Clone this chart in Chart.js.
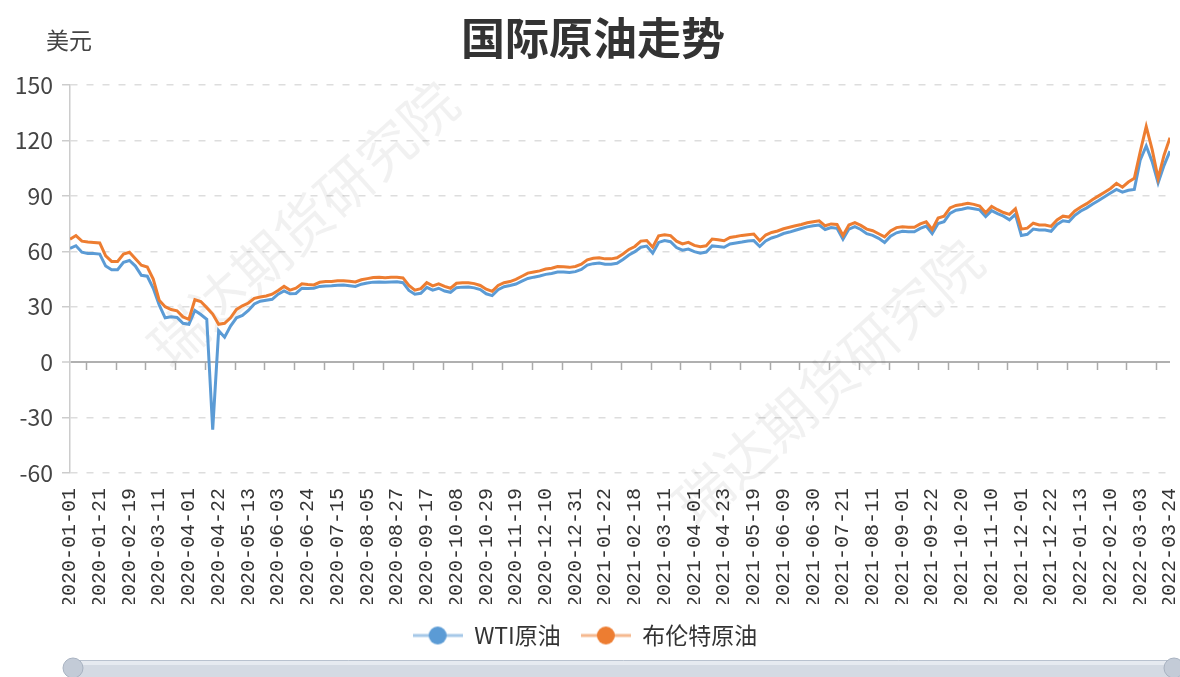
<!DOCTYPE html>
<html>
<head>
<meta charset="utf-8">
<script src="https://cdn.jsdelivr.net/npm/chart.js@4.4.1/dist/chart.umd.min.js"></script>
<style>
html,body{margin:0;padding:0;background:#fff;}
#c{display:block;}
</style>
</head>
<body>
<canvas id="c" width="1180" height="677"></canvas>
<script>
// ---------- data ----------
const tickLabels = [
  "2020-01-01","2020-01-21","2020-02-19","2020-03-11","2020-04-01","2020-04-22",
  "2020-05-13","2020-06-03","2020-06-24","2020-07-15","2020-08-05","2020-08-27",
  "2020-09-17","2020-10-08","2020-10-29","2020-11-19","2020-12-10","2020-12-31",
  "2021-01-22","2021-02-18","2021-03-11","2021-04-01","2021-04-23","2021-05-19",
  "2021-06-09","2021-06-30","2021-07-21","2021-08-11","2021-09-01","2021-09-22",
  "2021-10-20","2021-11-10","2021-12-01","2021-12-22","2022-01-13","2022-02-10",
  "2022-03-03","2022-03-24"
];
const LABEL_EVERY = 15;   // trading days between two axis labels
const STEP = 3;           // trading days between two samples below

const wti = [
  61.5, 63.0, 59.5, 58.8, 58.8,
  58.5, 52.0, 50.0, 50.0, 54.0,
  55.0, 52.0, 47.0, 46.5, 40.0,
  31.0, 24.0, 24.5, 24.2, 21.0,
  20.5, 28.0, 25.8, 23.2, -36.5,
  17.0, 13.5, 19.5, 24.0, 25.3,
  28.0, 31.5, 33.0, 33.5, 34.0,
  36.8, 38.5, 37.0, 37.2, 40.0,
  39.8, 40.0, 41.0, 41.2, 41.3,
  41.6, 41.8, 41.4, 41.0, 42.2,
  42.8, 43.3, 43.4, 43.2, 43.4,
  43.5, 43.0, 38.8, 36.8, 37.3,
  40.5, 39.0, 40.0, 38.5, 37.8,
  40.3, 40.6, 40.7, 40.2, 39.3,
  37.0, 36.0, 39.2, 40.8, 41.5,
  42.3, 43.8, 45.3, 46.0, 46.6,
  47.5, 48.0, 48.8, 48.8, 48.5,
  49.0, 50.2, 52.5, 53.3, 53.6,
  53.0, 53.0, 53.5, 55.6, 58.0,
  59.8, 62.2, 62.8, 59.0, 64.8,
  65.8, 65.2, 62.0, 60.6, 61.2,
  59.8, 59.0, 59.6, 62.9, 62.6,
  62.2, 64.0, 64.5, 65.0, 65.6,
  65.8, 62.6, 65.6, 67.2, 68.2,
  69.6, 70.4, 71.4, 72.3, 73.2,
  73.8, 74.2, 71.8, 72.8, 72.4,
  66.5, 72.0, 73.3, 71.8, 69.5,
  68.6, 67.0, 64.8, 68.2, 70.0,
  70.8, 70.6, 70.6, 72.4, 73.6,
  69.6, 75.0, 76.0, 80.5, 82.2,
  82.8, 83.6, 83.0, 82.4, 78.8,
  82.0, 80.4, 79.0, 77.0, 80.0,
  68.5, 69.2, 72.0, 71.5, 71.5,
  70.8, 74.5, 76.5, 76.0, 79.5,
  81.8, 83.5, 85.6, 87.5, 89.5,
  91.5, 93.5, 92.0, 93.0, 93.5,
  109.5, 117.0, 108.5, 97.0, 106.5,
  114.2
];

const brent = [
  66.5, 68.5, 65.5, 65.0, 64.8,
  64.5, 57.5, 54.5, 54.5, 58.5,
  59.5, 56.0, 52.5, 51.5, 45.0,
  33.5, 30.0, 28.5, 27.8, 24.5,
  23.2, 33.8, 32.8, 29.5, 26.0,
  20.5, 21.0, 24.0, 28.5, 30.5,
  32.0, 34.5, 35.3, 35.8, 36.8,
  38.8, 41.0, 39.0, 40.0, 42.4,
  42.0, 41.8, 43.2, 43.6, 43.6,
  44.0, 44.1, 43.8, 43.4, 44.6,
  45.2, 45.8, 45.9, 45.7, 45.9,
  46.0, 45.6, 41.5, 39.0, 39.8,
  43.0, 41.3, 42.4, 41.0, 40.0,
  42.7, 43.0, 43.0, 42.5, 41.5,
  39.5, 38.3, 41.5, 43.0, 43.6,
  44.8, 46.5, 48.2, 48.8, 49.4,
  50.4, 50.8, 51.7, 51.6, 51.3,
  51.8, 53.0, 55.4, 56.2, 56.5,
  55.9, 55.9, 56.5, 58.5, 61.0,
  62.6, 65.5, 65.8, 62.2, 68.4,
  69.0, 68.5, 65.5, 64.0, 64.8,
  63.2, 62.5, 63.0, 66.6, 66.2,
  65.7, 67.5, 68.0, 68.6, 69.0,
  69.3, 65.7, 68.8, 70.2, 71.0,
  72.2, 73.0, 73.8, 74.5, 75.4,
  76.0, 76.5, 73.8, 74.8, 74.5,
  68.5, 74.2, 75.5, 74.0, 72.0,
  71.1, 69.5, 67.8, 71.0, 72.8,
  73.3, 73.0, 73.0, 74.8, 76.0,
  71.8, 78.0, 79.0, 83.5, 84.8,
  85.3, 86.0, 85.4, 84.5, 80.8,
  84.3, 82.5, 81.0, 80.0, 83.0,
  72.0, 72.5, 75.2, 74.2, 74.2,
  73.5, 77.0, 79.0, 78.5, 81.8,
  84.0, 85.8, 88.0, 90.0, 92.0,
  94.0, 96.8, 94.7, 97.5, 99.5,
  114.0, 127.5, 115.0, 99.5, 112.0,
  121.5
];

const seriesNames = ["WTI原油", "布伦特原油"];
const seriesColors = ["#5B9BD5", "#ED7D31"];
const yTicks = { min: -60, max: 150, step: 30 };
const titleText = "国际原油走势";
const unitText = "美元";
const watermark = "瑞达期货研究院";

// ---------- rendering ----------
const CJK = '"Noto Sans CJK SC", "Noto Sans", sans-serif';

function legendIcon(color) {
  const c = document.createElement('canvas');
  c.width = 50; c.height = 20;
  const g = c.getContext('2d');
  g.globalAlpha = 0.55;
  g.strokeStyle = color; g.lineWidth = 3;
  g.beginPath(); g.moveTo(0, 10); g.lineTo(50, 10); g.stroke();
  g.globalAlpha = 1;
  g.fillStyle = color;
  g.beginPath(); g.arc(25, 10, 9, 0, Math.PI * 2); g.fill();
  return c;
}
const icons = seriesColors.map(legendIcon);

const toPoints = arr => arr.map((v, i) => ({ x: i * STEP, y: v }));
const lastX = (tickLabels.length - 1) * LABEL_EVERY;

const decor = {
  id: 'decor',
  beforeDatasetsDraw(chart) {
    const { ctx } = chart;
    ctx.save();
    ctx.fillStyle = 'rgba(0,0,0,0.055)';
    ctx.font = '56px ' + CJK;
    ctx.textAlign = 'center';
    ctx.textBaseline = 'middle';
    [[303, 224], [828, 382]].forEach(([x, y]) => {
      ctx.save();
      ctx.translate(x, y);
      ctx.rotate(-42 * Math.PI / 180);
      ctx.fillText(watermark, 0, 0);
      ctx.restore();
    });
    ctx.restore();

    // small tick marks hanging from the zero line
    const xs = chart.scales.x, ys = chart.scales.y;
    const y0 = Math.round(ys.getPixelForValue(0));
    ctx.save();
    ctx.strokeStyle = '#aaaaaa';
    ctx.lineWidth = 1.5;
    for (let k = 0; k < tickLabels.length - 1; k++) {
      const px = Math.round(xs.getPixelForValue(k * LABEL_EVERY + 8)) + 0.5;
      ctx.beginPath();
      ctx.moveTo(px, y0);
      ctx.lineTo(px, y0 + 8);
      ctx.stroke();
    }
    ctx.restore();
  },
  afterDraw(chart) {
    const { ctx } = chart;
    ctx.save();
    ctx.fillStyle = '#333';
    ctx.textAlign = 'center';
    ctx.textBaseline = 'middle';
    ctx.font = 'bold 44px ' + CJK;
    ctx.fillText(titleText, 593, 38);
    ctx.font = '23px ' + CJK;
    ctx.fillStyle = '#444';
    ctx.fillText(unitText, 69, 40);

    // data-zoom slider strip at the bottom
    const x1 = 73, x2 = 1174, top = 660;
    ctx.fillStyle = '#d4dae3';
    ctx.strokeStyle = '#b9c2cf';
    ctx.lineWidth = 1;
    ctx.beginPath();
    ctx.rect(x1, top + 0.5, x2 - x1, 20);
    ctx.fill(); ctx.stroke();
    ctx.fillStyle = '#e6eaf0';
    ctx.fillRect(x1, top + 1, x2 - x1, 4);
    [x1, x2].forEach(x => {
      ctx.beginPath();
      ctx.arc(x, 668, 10, 0, Math.PI * 2);
      ctx.fillStyle = '#c3cbd7';
      ctx.fill();
      ctx.strokeStyle = '#a8b2c1';
      ctx.stroke();
    });
    ctx.restore();
  }
};

new Chart(document.getElementById('c'), {
  type: 'line',
  data: {
    datasets: [
      { label: seriesNames[0], data: toPoints(wti), borderColor: seriesColors[0], backgroundColor: seriesColors[0],
        borderWidth: 3, pointRadius: 0, pointHoverRadius: 0, tension: 0, order: 1 },
      { label: seriesNames[1], data: toPoints(brent), borderColor: seriesColors[1], backgroundColor: seriesColors[1],
        borderWidth: 3, pointRadius: 0, pointHoverRadius: 0, tension: 0, order: 0 }
    ]
  },
  options: {
    responsive: false,
    animation: false,
    devicePixelRatio: 1,
    layout: { padding: { top: 85, right: 10, bottom: 20, left: 0 } },
    plugins: {
      title: { display: false },
      tooltip: { enabled: false },
      legend: {
        position: 'bottom',
        labels: {
          usePointStyle: true,
          pointStyleWidth: 50,
          boxHeight: 20,
          padding: 20,
          color: '#333',
          font: { size: 23, family: CJK },
          sort: (a, b) => a.datasetIndex - b.datasetIndex,
          generateLabels: chart =>
            Chart.defaults.plugins.legend.labels.generateLabels(chart)
              .map(l => Object.assign(l, { pointStyle: icons[l.datasetIndex] }))
        }
      }
    },
    scales: {
      x: {
        type: 'linear',
        min: 0,
        max: lastX,
        afterBuildTicks: s => { s.ticks = tickLabels.map((_, k) => ({ value: k * LABEL_EVERY })); },
        afterFit: s => { s.height = 131; s.paddingLeft = 0; s.paddingRight = 0; },
        ticks: {
          autoSkip: false,
          minRotation: 90,
          maxRotation: 90,
          padding: 15,
          color: '#333',
          font: { size: 20, family: '"Liberation Mono", "DejaVu Sans Mono", monospace', lineHeight: 1 },
          callback: v => tickLabels[Math.round(v / LABEL_EVERY)]
        },
        grid: { display: false, drawTicks: false },
        border: { display: false }
      },
      y: {
        min: yTicks.min,
        max: yTicks.max,
        afterFit: s => { s.width = 70; },
        ticks: {
          stepSize: yTicks.step,
          padding: 9,
          color: '#444',
          font: { size: 23, family: CJK }
        },
        grid: {
          color: c => (c.tick && c.tick.value === 0) ? '#b0b0b0' : '#dddddd',
          lineWidth: c => (c.tick && c.tick.value === 0) ? 2 : 1.5,
          tickLength: 8,
          tickColor: '#cccccc',
          tickWidth: 1.5
        },
        border: {
          display: true,
          color: '#cccccc',
          width: 1.5,
          dash: c => (c.tick && c.tick.value !== 0) ? [7, 9] : []
        }
      }
    }
  },
  plugins: [decor]
});
</script>
</body>
</html>
